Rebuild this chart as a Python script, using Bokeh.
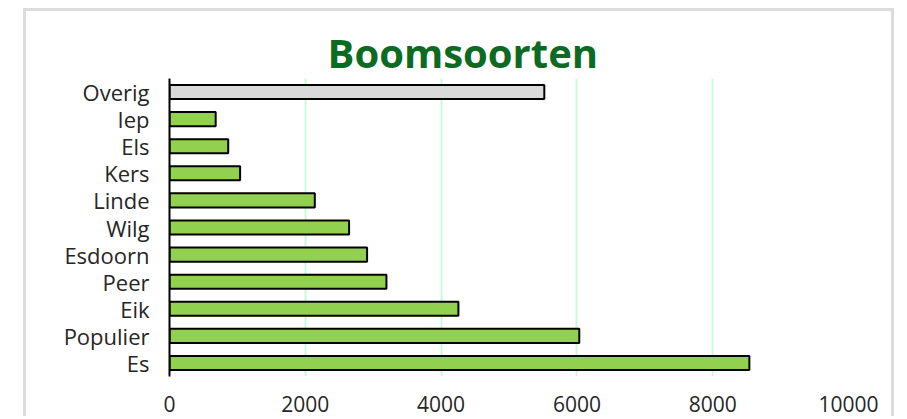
from bokeh.plotting import figure
from bokeh.models import ColumnDataSource, FixedTicker, FactorRange, Range1d, Title
from bokeh.embed import file_html
from bokeh.resources import INLINE

# data (bottom to top)
categories = ["Es", "Populier", "Eik", "Peer", "Esdoorn", "Wilg", "Linde", "Kers", "Els", "Iep", "Overig"]
values = [8540, 6035, 4255, 3195, 2910, 2645, 2140, 1040, 865, 680, 5520]
colors = ["#92d050"] * 10 + ["#d9d9d9"]
x_ticks = [0, 2000, 4000, 6000, 8000, 10000]

src = ColumnDataSource(dict(cat=categories, val=values, col=colors))

p = figure(width=871, height=408, output_backend="svg", toolbar_location=None,
           y_range=FactorRange(factors=categories, range_padding=0),
           x_range=Range1d(0, 10000),
           min_border_left=143, min_border_right=49, min_border_top=67, min_border_bottom=43)
p.styles = {"margin-left": "23px", "margin-top": "8px", "border-left": "3px solid #dcdcdc",
            "border-top": "3px solid #dcdcdc", "border-right": "3px solid #dcdcdc"}

p.hbar(y="cat", left=0, right="val", height=0.52, fill_color="col",
       line_color="black", line_width=2, source=src)

t = Title(text="Boomsoorten", align="left", text_font="Open Sans", text_font_size="40px",
          text_font_style="bold", text_color="#0c6b22", offset=158, standoff=-2)
p.add_layout(t, "above")

p.outline_line_color = None
p.ygrid.grid_line_color = None
p.xgrid.grid_line_color = "#c8fbd9"
p.xgrid.grid_line_width = 2
p.xaxis.ticker = FixedTicker(ticks=x_ticks)
p.xaxis.axis_line_color = None
p.xaxis.major_tick_line_color = None
p.xaxis.minor_tick_line_color = None
p.xaxis.major_tick_out = 0
p.xaxis.major_label_standoff = 19
p.xaxis.major_label_text_font = "Open Sans"
p.xaxis.major_label_text_font_size = "21px"
p.xaxis.major_label_text_color = "#262626"

p.yaxis.axis_line_color = "black"
p.yaxis.axis_line_width = 2
p.yaxis.major_tick_line_color = None
p.yaxis.minor_tick_line_color = None
p.yaxis.major_tick_out = 0
p.yaxis.major_label_standoff = 20
p.yaxis.major_label_text_font = "Open Sans"
p.yaxis.major_label_text_font_size = "22px"
p.yaxis.major_label_text_color = "#262626"

open("out.html", "w").write(file_html(p, INLINE))
